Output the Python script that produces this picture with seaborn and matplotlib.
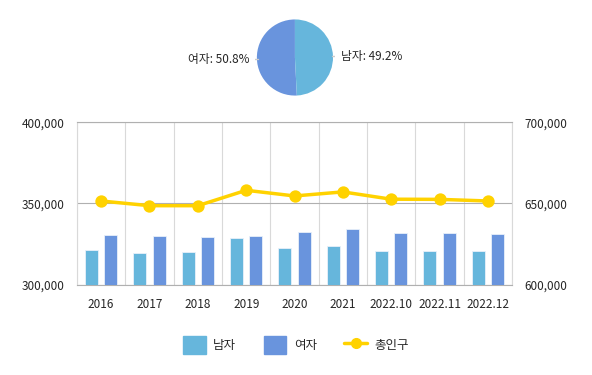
"""
인구 현황 차트: 남/여 막대 + 총인구 선 + 성비 파이
"""
import numpy as np
import pandas as pd
import seaborn as sns
import matplotlib.pyplot as plt
from matplotlib.patches import Patch
from matplotlib.lines import Line2D
from matplotlib.ticker import StrMethodFormatter

# --------------------------
# 데이터
# --------------------------
periods = ['2016', '2017', '2018', '2019', '2020', '2021', '2022.10', '2022.11', '2022.12']
male = [321100, 319400, 320000, 328700, 322300, 323700, 320900, 320700, 320500]
female = [330700, 329700, 329100, 329900, 332600, 334200, 332000, 331800, 331300]
total = [651500, 648600, 648600, 658100, 654600, 657100, 652600, 652500, 651500]
pie_labels = ['여자', '남자']
pie_shares = [50.8, 49.2]

C_MALE = '#66B6DC'
C_FEMALE = '#6994DD'
C_LINE = '#FFD200'
GRID_V = '#D9D9D9'
GRID_H = '#B0B0B0'

sns.set_style('white')
plt.rcParams['font.family'] = ['Noto Sans CJK KR', 'DejaVu Sans']

df = pd.DataFrame({'기간': periods * 2,
                   '성별': ['남자'] * len(periods) + ['여자'] * len(periods),
                   '인구': male + female})
df_tot = pd.DataFrame({'기간': periods, '총인구': total})

fig = plt.figure(figsize=(5.92, 3.75), dpi=100)
ax = fig.add_axes([0.130, 0.2413, 0.735, 0.4325])

sns.barplot(data=df, x='기간', y='인구', hue='성별', order=periods,
            palette={'남자': C_MALE, '여자': C_FEMALE}, saturation=1,
            width=0.8, gap=0.33, edgecolor='#E8F0FA', linewidth=0.6,
            legend=False, ax=ax, zorder=3)
ax.set_ylim(300000, 400000)
ax.set_yticks([300000, 350000, 400000])
ax.set_xlim(-0.5, len(periods) - 0.5)
ax.yaxis.set_major_formatter(StrMethodFormatter('{x:,.0f}'))
ax.set_xlabel('')
ax.set_ylabel('')

# 격자
ax.set_xticks(np.arange(-0.5, len(periods), 1), minor=True)
ax.grid(axis='x', which='minor', color=GRID_V, linewidth=0.8, zorder=0)
ax.grid(axis='y', which='major', color=GRID_H, linewidth=0.8, zorder=0)
ax.tick_params(axis='both', which='both', length=0)
ax.tick_params(axis='x', pad=10, labelsize=8.5)
ax.tick_params(axis='y', pad=9, labelsize=8.5)
for s in ['left', 'right']:
    ax.spines[s].set_color(GRID_V)
    ax.spines[s].set_linewidth(0.8)
for s in ['top', 'bottom']:
    ax.spines[s].set_color(GRID_H)
    ax.spines[s].set_linewidth(0.8)

# 총인구 (보조축)
ax2 = ax.twinx()
sns.pointplot(data=df_tot, x='기간', y='총인구', order=periods, color=C_LINE,
              errorbar=None, markers='o', markersize=7, linewidth=2.5, ax=ax2)
ax2.set_ylim(600000, 700000)
ax2.set_yticks([600000, 650000, 700000])
ax2.yaxis.set_major_formatter(StrMethodFormatter('{x:,.0f}'))
ax2.set_ylabel('')
ax2.tick_params(axis='y', length=0, pad=9, labelsize=8.5)
for s in ax2.spines.values():
    s.set_visible(False)

# 범례
handles = [Patch(facecolor=C_MALE, edgecolor=C_MALE, label='남자'),
           Patch(facecolor=C_FEMALE, edgecolor=C_FEMALE, label='여자'),
           Line2D([0], [0], color=C_LINE, lw=2.5, marker='o', markersize=7, label='총인구')]
fig.legend(handles=handles, loc='center', bbox_to_anchor=(0.5, 0.08), ncol=3,
           frameon=False, fontsize=9, handlelength=1.8, handleheight=1.8,
           columnspacing=2.2, handletextpad=0.6)

# 파이
pax = fig.add_axes([0.4307, 0.74, 0.135, 0.2133])
pax.pie(pie_shares, colors=[C_FEMALE, C_MALE], startangle=90, counterclock=True,
        wedgeprops={'linewidth': 0})
pax.set_aspect('equal')
pax.text(-1.2, -0.05, f'{pie_labels[0]}: {pie_shares[0]}%', ha='right', va='center', fontsize=8.5)
pax.text(1.2, 0.03, f'{pie_labels[1]}: {pie_shares[1]}%', ha='left', va='center', fontsize=8.5)
pax.plot([-1.18, -0.98], [-0.05, -0.05], color='#CCCCCC', lw=1)
pax.plot([0.98, 1.18], [0.03, 0.03], color='#CCCCCC', lw=1)
pax.set_xlim(-1.05, 1.05)
pax.set_ylim(-1.05, 1.05)
pax.axis('off')

fig.savefig('out.png', dpi=100)
